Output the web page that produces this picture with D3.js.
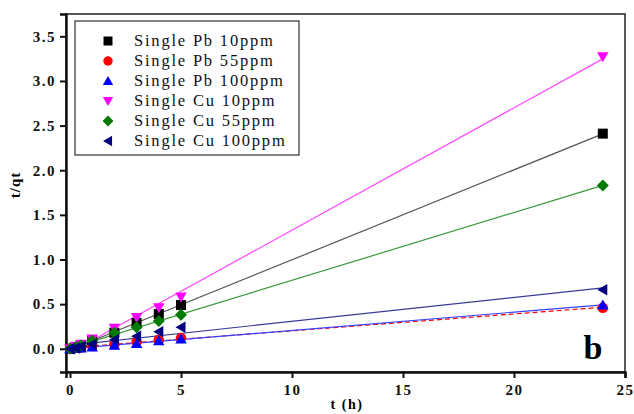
<!DOCTYPE html>
<meta charset="utf-8">
<head>
    <title>t/qt vs t</title>
    <script src="https://cdn.jsdelivr.net/npm/d3@7"></script>
</head>

<style>
    body { margin: 0; background: #fff; }
    text { font-family: "Liberation Serif", "Times New Roman", serif; }
    .tick text { font-weight: bold; font-size: 15px; letter-spacing: 1.5px; }
</style>

<svg></svg>

<script>
    // data
    var times = [0, 0.25, 0.5, 1, 2, 3, 4, 5, 24];
    var pb10 = [0, 0.02, 0.04, 0.09, 0.18, 0.29, 0.39, 0.49, 2.41];
    var pb55 = [0, 0.01, 0.015, 0.03, 0.05, 0.08, 0.10, 0.12, 0.46];
    var pb100 = [0, 0.005, 0.01, 0.02, 0.04, 0.06, 0.09, 0.11, 0.49];
    var cu10 = [0, 0.025, 0.05, 0.11, 0.23, 0.35, 0.46, 0.58, 3.27];
    var cu55 = [0, 0.02, 0.04, 0.09, 0.18, 0.24, 0.31, 0.38, 1.83];
    var cu100 = [0, 0.01, 0.025, 0.05, 0.10, 0.14, 0.19, 0.24, 0.66];
    var xTicks = [0, 5, 10, 15, 20, 25];
    var yTicks = [0, 0.5, 1, 1.5, 2, 2.5, 3, 3.5];

    var series = [
        {name: "Single Pb 10ppm", values: pb10, color: "#000000", line: "#555555", symbol: "square", dash: null},
        {name: "Single Pb 55ppm", values: pb55, color: "#ff0000", line: "#ff0000", symbol: "circle", dash: "5,3"},
        {name: "Single Pb 100ppm", values: pb100, color: "#0000ff", line: "#3344ff", symbol: "up", dash: null},
        {name: "Single Cu 10ppm", values: cu10, color: "#ff00ff", line: "#ff44ff", symbol: "down", dash: null},
        {name: "Single Cu 55ppm", values: cu55, color: "#007a00", line: "#3a9a3a", symbol: "diamond", dash: null},
        {name: "Single Cu 100ppm", values: cu100, color: "#000080", line: "#3a3a99", symbol: "left", dash: null}
    ];

    var vWidth = 634, vHeight = 414;
    var pLeft = 66, pRight = 625, pTop = 14, pBottom = 372;

    var svg = d3.select('svg').attr('width', vWidth).attr('height', vHeight);

    var x = d3.scaleLinear().domain([-0.18, 25]).range([pLeft, pRight]);
    var y = d3.scaleLinear().domain([-0.26, 3.75]).range([pBottom, pTop]);

    // frame
    svg.append('rect')
        .attr('x', pLeft).attr('y', pTop)
        .attr('width', pRight - pLeft).attr('height', pBottom - pTop)
        .attr('fill', 'none').attr('stroke', '#222').attr('stroke-width', 1.5);

    var xAxis = svg.append('g')
        .attr('transform', 'translate(0,' + pBottom + ')')
        .call(d3.axisBottom(x).tickValues(xTicks).tickSize(6).tickPadding(6).tickFormat(d3.format('d')));
    var yAxis = svg.append('g')
        .attr('transform', 'translate(' + pLeft + ',0)')
        .call(d3.axisLeft(y).tickValues(yTicks).tickSize(6).tickPadding(4).tickFormat(d3.format('.1f')));
    [xAxis, yAxis].forEach(function (a) {
        a.select('.domain').attr('stroke', '#111').attr('stroke-width', 2.5);
        a.selectAll('.tick line').attr('stroke', '#111').attr('stroke-width', 2);
        a.selectAll('.tick text').attr('fill', '#111');
    });

    // fitted lines (least squares on each series)
    function fit(vals) {
        var mx = d3.mean(times), my = d3.mean(vals);
        var sxy = d3.sum(times, function (t, i) { return (t - mx) * (vals[i] - my); });
        var sxx = d3.sum(times, function (t) { return (t - mx) * (t - mx); });
        var b = sxy / sxx;
        return {a: my - b * mx, b: b};
    }

    var line = d3.line().x(function (d) { return x(d[0]); }).y(function (d) { return y(d[1]); });

    series.forEach(function (s) {
        var f = fit(s.values);
        var pts = [0, 24].map(function (t) { return [t, f.a + f.b * t]; });
        svg.append('path')
            .attr('d', line(pts))
            .attr('fill', 'none')
            .attr('stroke', s.line)
            .attr('stroke-width', 1.2)
            .attr('stroke-dasharray', s.dash);
    });

    function symbolPath(kind, r) {
        switch (kind) {
            case 'square': return 'M' + (-r) + ',' + (-r) + 'h' + (2 * r) + 'v' + (2 * r) + 'h' + (-2 * r) + 'Z';
            case 'circle': return d3.symbol().type(d3.symbolCircle).size(Math.PI * r * r * 1.1)();
            case 'up': return 'M0,' + (-r * 1.1) + 'L' + (r * 1.15) + ',' + (r * 0.9) + 'L' + (-r * 1.15) + ',' + (r * 0.9) + 'Z';
            case 'down': return 'M0,' + (r * 1.1) + 'L' + (r * 1.15) + ',' + (-r * 0.9) + 'L' + (-r * 1.15) + ',' + (-r * 0.9) + 'Z';
            case 'diamond': return 'M0,' + (-r * 1.2) + 'L' + (r * 1.2) + ',0L0,' + (r * 1.2) + 'L' + (-r * 1.2) + ',0Z';
            case 'left': return 'M' + (-r * 1.1) + ',0L' + (r * 0.9) + ',' + (-r * 1.15) + 'L' + (r * 0.9) + ',' + (r * 1.15) + 'Z';
        }
    }

    series.forEach(function (s) {
        svg.append('g').selectAll('path').data(times).enter()
            .append('path')
            .attr('d', symbolPath(s.symbol, 5))
            .attr('transform', function (t, i) { return 'translate(' + x(t) + ',' + y(s.values[i]) + ')'; })
            .attr('fill', s.color);
    });

    // legend
    var lg = svg.append('g');
    lg.append('rect')
        .attr('x', 75).attr('y', 21).attr('width', 224).attr('height', 134)
        .attr('fill', '#fff').attr('stroke', '#333').attr('stroke-width', 1.2);
    series.forEach(function (s, i) {
        var yy = 41 + i * 20;
        lg.append('path')
            .attr('d', symbolPath(s.symbol, 4.5))
            .attr('transform', 'translate(108,' + yy + ')')
            .attr('fill', s.color);
        lg.append('text')
            .attr('x', 134).attr('y', yy + 5)
            .attr('font-size', 16.5)
            .attr('letter-spacing', 1.8)
            .attr('fill', '#111')
            .text(s.name);
    });

    // axis labels
    svg.append('text')
        .attr('x', 347).attr('y', 409)
        .attr('text-anchor', 'middle')
        .attr('font-weight', 'bold').attr('font-size', 14)
        .attr('letter-spacing', 1.5)
        .text('t (h)');
    svg.append('text')
        .attr('transform', 'translate(20,185) rotate(-90)')
        .attr('text-anchor', 'middle')
        .attr('font-weight', 'bold').attr('font-size', 15)
        .attr('letter-spacing', 1)
        .text('t/qt');

    svg.append('text')
        .attr('x', 593).attr('y', 359)
        .attr('text-anchor', 'middle')
        .attr('font-weight', 'bold').attr('font-size', 34)
        .text('b');
</script>
